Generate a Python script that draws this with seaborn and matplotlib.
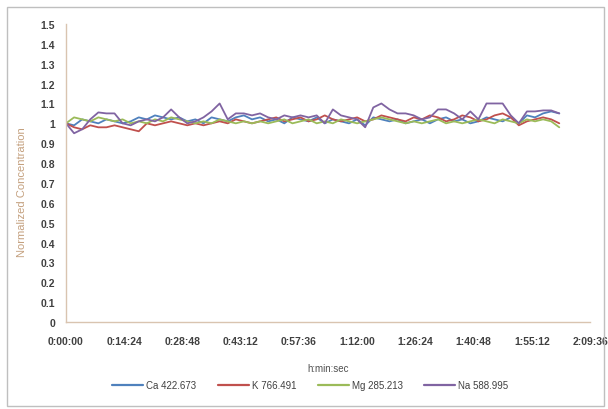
import numpy as np
import pandas as pd
import matplotlib
matplotlib.use("Agg")
import matplotlib.pyplot as plt
import seaborn as sns
from matplotlib.patches import Rectangle
from matplotlib.ticker import FixedLocator, FuncFormatter

# Sampling interval of the measurements (seconds)
SAMPLE_STEP_S = 120
N_SAMPLES = 62

series_names = ["Ca 422.673", "K 766.491", "Mg 285.213", "Na 588.995"]

ca = [1.00, 0.99, 1.02, 1.01, 1.00, 1.02, 1.01, 1.00, 1.01, 1.03,
      1.02, 1.04, 1.03, 1.02, 1.03, 1.01, 1.02, 1.00, 1.03, 1.02,
      1.01, 1.03, 1.04, 1.02, 1.03, 1.01, 1.02, 1.00, 1.03, 1.02,
      1.01, 1.03, 1.00, 1.02, 1.01, 1.00, 1.02, 0.99, 1.03, 1.02,
      1.01, 1.02, 1.00, 1.01, 1.02, 1.00, 1.02, 1.03, 1.01, 1.02,
      1.00, 1.01, 1.03, 1.02, 1.01, 1.03, 1.00, 1.04, 1.03, 1.05,
      1.06, 1.05]
k = [1.00, 0.98, 0.97, 0.99, 0.98, 0.98, 0.99, 0.98, 0.97, 0.96,
     1.00, 0.99, 1.00, 1.01, 1.00, 0.99, 1.00, 0.99, 1.00, 1.01,
     1.00, 1.02, 1.01, 1.00, 1.01, 1.02, 1.03, 1.01, 1.02, 1.03,
     1.01, 1.02, 1.04, 1.02, 1.01, 1.02, 1.03, 1.01, 1.02, 1.04,
     1.03, 1.02, 1.01, 1.03, 1.02, 1.04, 1.03, 1.01, 1.02, 1.04,
     1.03, 1.01, 1.02, 1.04, 1.05, 1.03, 0.99, 1.01, 1.02, 1.03,
     1.02, 1.00]
mg = [1.00, 1.03, 1.02, 1.01, 1.03, 1.02, 1.01, 1.02, 1.00, 1.01,
      1.00, 1.02, 1.01, 1.03, 1.02, 1.01, 1.00, 1.01, 1.00, 1.02,
      1.01, 1.00, 1.01, 1.00, 1.01, 1.00, 1.01, 1.02, 1.00, 1.01,
      1.02, 1.00, 1.01, 1.00, 1.02, 1.01, 1.00, 1.01, 1.02, 1.03,
      1.02, 1.01, 1.00, 1.01, 1.00, 1.01, 1.02, 1.00, 1.01, 1.00,
      1.01, 1.02, 1.01, 1.00, 1.02, 1.01, 1.00, 1.02, 1.01, 1.02,
      1.01, 0.98]
na = [1.00, 0.95, 0.97, 1.02, 1.055, 1.05, 1.05, 1.00, 0.99, 1.01,
      1.02, 1.01, 1.03, 1.07, 1.03, 1.00, 1.01, 1.03, 1.06, 1.10,
      1.02, 1.05, 1.05, 1.04, 1.05, 1.03, 1.02, 1.04, 1.03, 1.04,
      1.03, 1.04, 1.00, 1.07, 1.04, 1.03, 1.02, 0.98, 1.08, 1.10,
      1.07, 1.05, 1.05, 1.04, 1.02, 1.03, 1.07, 1.07, 1.05, 1.02,
      1.06, 1.02, 1.10, 1.10, 1.10, 1.04, 1.00, 1.06, 1.06, 1.065,
      1.065, 1.05]

y_ticks = [0, 0.1, 0.2, 0.3, 0.4, 0.5, 0.6, 0.7, 0.8, 0.9, 1, 1.1, 1.2, 1.3, 1.4, 1.5]
x_tick_step_s = 864  # 0:14:24
x_max_s = 7776       # 2:09:36

colors = ["#4F81BD", "#C0504D", "#9BBB59", "#8064A2"]

time_s = np.arange(N_SAMPLES) * SAMPLE_STEP_S
frames = []
for name, vals in zip(series_names, [ca, k, mg, na]):
    frames.append(pd.DataFrame({"t": time_s, "value": vals, "series": name}))
df = pd.concat(frames, ignore_index=True)

sns.set_theme(style="white")
plt.rcParams["font.family"] = ["Liberation Sans", "DejaVu Sans"]

W, H = 608, 410
fig = plt.figure(figsize=(W / 100, H / 100), dpi=100)
ax = fig.add_axes([66 / W, (H - 323) / H, (590 - 66) / W, (323 - 25) / H])

sns.lineplot(data=df, x="t", y="value", hue="series", hue_order=series_names,
             palette=colors, linewidth=1.3, ax=ax, legend=False)

ax.set_xlim(0, x_max_s)
ax.set_ylim(0, 1.5)
ax.yaxis.set_major_locator(FixedLocator(y_ticks))
ax.set_yticklabels([f"{v:g}" for v in y_ticks])
ax.xaxis.set_major_locator(FixedLocator(np.arange(0, x_max_s + 1, x_tick_step_s)))


def hms(v, pos=None):
    v = int(round(v))
    return f"{v // 3600}:{(v % 3600) // 60:02d}:{v % 60:02d}"


ax.xaxis.set_major_formatter(FuncFormatter(hms))
ax.tick_params(axis="both", length=0, labelsize=7.5, colors="#404040")
ax.tick_params(axis="y", pad=8)
ax.tick_params(axis="x", pad=10)
for lab in ax.get_xticklabels() + ax.get_yticklabels():
    lab.set_fontweight("bold")

for side in ["top", "right"]:
    ax.spines[side].set_visible(False)
for side in ["left", "bottom"]:
    ax.spines[side].set_color("#d9c4b0")
    ax.spines[side].set_linewidth(1.0)

ax.set_xlabel("h:min:sec", fontsize=7, color="#505050", labelpad=12)
ax.set_ylabel("Normalized Concentration", fontsize=8, color="#c4a07e")
ax.yaxis.set_label_coords(-0.075, 0.44)

handles = [plt.Line2D([], [], color=c, lw=1.6) for c in colors]
fig.legend(handles, series_names, loc="center", bbox_to_anchor=(0.51, 24 / H),
           ncol=4, frameon=False, fontsize=7, handlelength=3.2,
           handletextpad=0.3, columnspacing=2.2, labelcolor="#404040")

fig.patches.append(Rectangle((7 / W, 3 / H), (604 - 7) / W, (398 - 3 + 4) / H,
                             transform=fig.transFigure, fill=False,
                             edgecolor="#bfbfbf", linewidth=1.0))

fig.savefig("out.png", dpi=100, facecolor="white")
